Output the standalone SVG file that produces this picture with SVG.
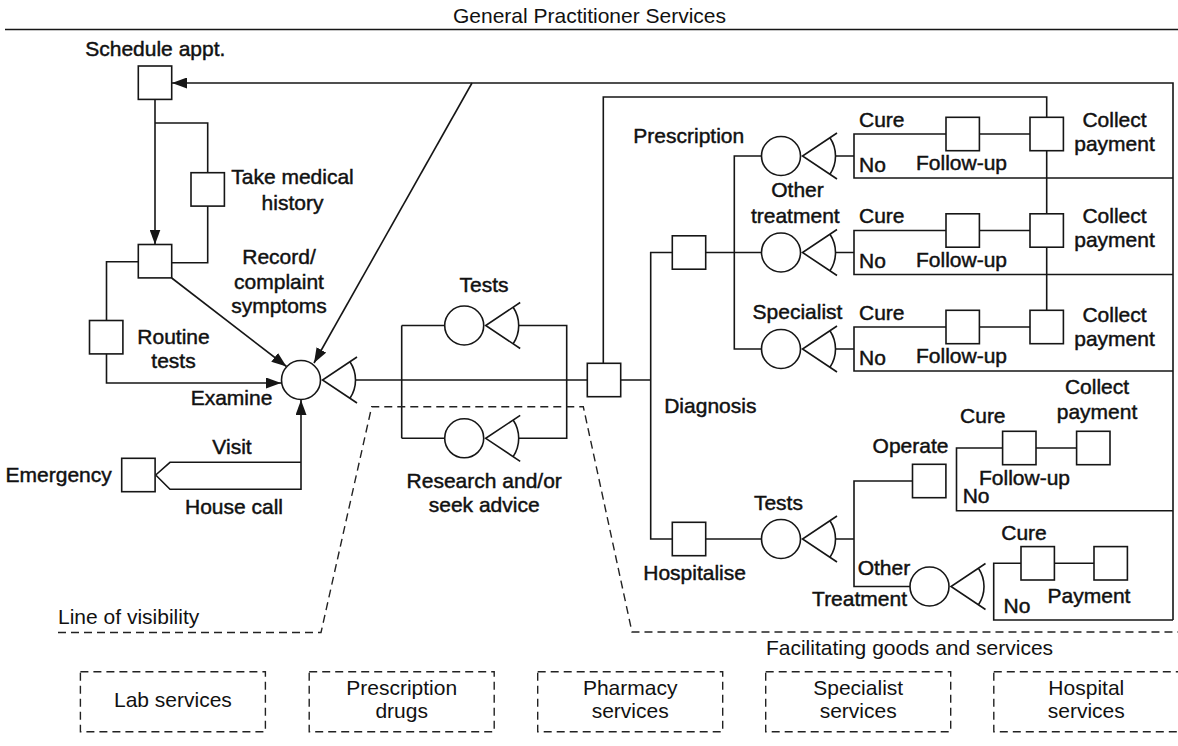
<svg xmlns="http://www.w3.org/2000/svg" width="1178" height="746" viewBox="0 0 1178 746">
  <style>
    .ln { fill: none; stroke: #161616; stroke-width: 1.6; }
    .bx { fill: #fff; stroke: #161616; stroke-width: 1.6; }
    .dash { fill: none; stroke: #222; stroke-width: 1.4; stroke-dasharray: 8 5; }
    text { font-family: "Liberation Sans", Arial, sans-serif; font-size: 21px; fill: #111; stroke: #111; stroke-width: 0.45; }
    .lt { stroke: none; }
    .m { text-anchor: middle; }
    .e { text-anchor: end; }
  </style>
  <defs>
    <marker id="arrow" markerUnits="userSpaceOnUse" markerWidth="15" markerHeight="11" refX="15" refY="5.5" orient="auto">
      <path d="M0,0 L15,5.5 L0,11 Z" fill="#161616"/>
    </marker>
    <!-- failure/decision point: circle with an open angle on its right -->
    <g id="wedge">
      <circle r="19.5" class="bx"/>
      <path class="ln" d="M56,-23 L21.5,0 L56,23 M48.96,-18.31 A33,33 0 0 1 48.96,18.31"/>
    </g>
    <rect id="sq" width="33.4" height="33.4" class="bx"/>
  </defs>

  <!-- header -->
  <g id="header">
    <text class="m lt" x="589.5" y="23">General Practitioner Services</text>
    <path class="ln" d="M5,29.5 H1178"/>
  </g>

  <!-- connectors -->
  <g id="connectors">
    <path class="ln" d="M1173,620 V83 H172" marker-end="url(#arrow)"/>
    <path class="ln" d="M155,99.4 V244.5" marker-end="url(#arrow)"/>
    <path class="ln" d="M155,123 H207.7 V172.7 M207.7,206 V262.7 H171.7"/>
    <path class="ln" d="M138.3,261.7 H106.5 V383 H281" marker-end="url(#arrow)"/>
    <path class="ln" d="M171.7,278 L286.5,366.5" marker-end="url(#arrow)"/>
    <path class="ln" d="M472,83 L314,363" marker-end="url(#arrow)"/>
    <path class="ln" d="M155.7,475 L170,462.3 H301 M155.7,475 L170,489.3 H301 V400" marker-end="url(#arrow)"/>
    <path class="ln" d="M355.5,380 H587.3"/>
    <path class="ln" d="M401.7,325.5 V438.3 M401.7,325.5 H444.7 M401.7,438.3 H444.7 M518.7,325.5 H566.7 V438.3 H518.7"/>
    <path class="ln" d="M603.3,363.3 V97 H1046.7 V310"/>
    <path class="ln" d="M620.7,380 H650.7 M672.3,252.5 H650.7 V539 H672.3"/>
    <path class="ln" d="M705.7,252.5 H761.5 M761.5,156 H734.3 V349 H761.5"/>
    <!-- treatment outcome rows -->
    <path class="ln" d="M835.5,156 H854 M946,134 H854 V178 H1173 M979.4,134 H1030"/>
    <path class="ln" d="M835.5,252.5 H854 M946,230.5 H854 V274.5 H1173 M979.4,230.5 H1030"/>
    <path class="ln" d="M835.5,349 H854 M946,327 H854 V371 H1173 M979.4,327 H1030"/>
    <!-- hospital branch -->
    <path class="ln" d="M705.7,539 H761.5 M835.5,539 H854 M912.5,481 H854 V586.5 H910"/>
    <path class="ln" d="M1002.6,448 H956.5 V510.7 H1173 M1036,448 H1076.6"/>
    <path class="ln" d="M1021,563.3 H993.7 V620 H1173 M1054.4,563.3 H1094"/>
    <text class="m" x="232" y="454">Visit</text>
    <text class="m" x="234" y="514">House call</text>
  </g>

  <!-- front-stage nodes -->
  <g id="schedule">
    <use href="#sq" x="138.3" y="66"/>
    <text class="m" x="155.3" y="56">Schedule appt.</text>
  </g>
  <g id="history">
    <use href="#sq" x="191" y="172.7"/>
    <text class="m" x="292.5" y="184">Take medical</text>
    <text class="m" x="292.5" y="209.5">history</text>
  </g>
  <g id="record">
    <use href="#sq" x="138.3" y="244.5"/>
    <text class="m" x="279" y="264.3">Record/</text>
    <text class="m" x="279" y="289">complaint</text>
    <text class="m" x="279" y="313.3">symptoms</text>
  </g>
  <g id="routine">
    <use href="#sq" x="89.5" y="320.5"/>
    <text class="m" x="173.5" y="344">Routine</text>
    <text class="m" x="173.5" y="368">tests</text>
  </g>
  <g id="examine">
    <use href="#wedge" x="301" y="380"/>
    <text class="m" x="231.5" y="405">Examine</text>
  </g>
  <g id="emergency">
    <use href="#sq" x="121.7" y="458.3"/>
    <text class="m" x="58.7" y="481.7">Emergency</text>
  </g>
  <g id="tests">
    <use href="#wedge" x="464.2" y="325.5"/>
    <text class="m" x="484" y="291.5">Tests</text>
  </g>
  <g id="research">
    <use href="#wedge" x="464.2" y="438.3"/>
    <text class="m" x="484.2" y="488.3">Research and/or</text>
    <text class="m" x="484.2" y="511.7">seek advice</text>
  </g>
  <g id="junction">
    <use href="#sq" x="587.3" y="363.3"/>
  </g>

  <!-- treatment nodes -->
  <g id="diagnosis">
    <use href="#sq" x="672.3" y="235.8"/>
    <text class="m" x="710.3" y="413.3">Diagnosis</text>
  </g>
  <g id="prescription">
    <use href="#wedge" x="781" y="156"/>
    <text class="m" x="688.8" y="143.3">Prescription</text>
  </g>
  <g id="other-treatment">
    <use href="#wedge" x="781" y="252.5"/>
    <text class="m" x="797.5" y="197.3">Other</text>
    <text class="m" x="795.3" y="222.7">treatment</text>
  </g>
  <g id="specialist">
    <use href="#wedge" x="781" y="349"/>
    <text class="m" x="797.5" y="319.3">Specialist</text>
  </g>

  <g id="outcome-1">
    <use href="#sq" x="946" y="117.3"/>
    <use href="#sq" x="1030" y="117.3"/>
    <text x="859" y="126.5">Cure</text>
    <text x="859" y="171.5">No</text>
    <text class="m" x="961.5" y="170">Follow-up</text>
    <text class="m" x="1114.5" y="126.7">Collect</text>
    <text class="m" x="1114.5" y="150.7">payment</text>
  </g>
  <g id="outcome-2">
    <use href="#sq" x="946" y="213.8"/>
    <use href="#sq" x="1030" y="213.8"/>
    <text x="859" y="223">Cure</text>
    <text x="859" y="268">No</text>
    <text class="m" x="961.5" y="266.5">Follow-up</text>
    <text class="m" x="1114.5" y="223">Collect</text>
    <text class="m" x="1114.5" y="247">payment</text>
  </g>
  <g id="outcome-3">
    <use href="#sq" x="946" y="310.3"/>
    <use href="#sq" x="1030" y="310.3"/>
    <text x="859" y="319.5">Cure</text>
    <text x="859" y="364.5">No</text>
    <text class="m" x="961.5" y="363">Follow-up</text>
    <text class="m" x="1114.5" y="321.7">Collect</text>
    <text class="m" x="1114.5" y="346">payment</text>
  </g>

  <!-- hospital branch nodes -->
  <g id="hospitalise">
    <use href="#sq" x="672.3" y="522.3"/>
    <text class="m" x="694.6" y="580">Hospitalise</text>
  </g>
  <g id="hospital-tests">
    <use href="#wedge" x="781" y="539"/>
    <text class="m" x="778.4" y="510">Tests</text>
  </g>
  <g id="operate">
    <use href="#sq" x="912.5" y="464.3"/>
    <text class="m" x="910.5" y="453.3">Operate</text>
  </g>
  <g id="operate-outcome">
    <use href="#sq" x="1002.6" y="431.3"/>
    <use href="#sq" x="1076.6" y="431.3"/>
    <text class="m" x="982.8" y="422.7">Cure</text>
    <text class="m" x="1097" y="394.3">Collect</text>
    <text class="m" x="1097" y="419.3">payment</text>
    <text class="m" x="1024.5" y="485">Follow-up</text>
    <text x="962.7" y="502.7">No</text>
  </g>
  <g id="hospital-other">
    <use href="#wedge" x="929.5" y="586.5"/>
    <text x="857.7" y="575">Other</text>
    <text class="e" x="907" y="605.7">Treatment</text>
  </g>
  <g id="other-outcome">
    <use href="#sq" x="1021" y="546.6"/>
    <use href="#sq" x="1094" y="546.6"/>
    <text class="m" x="1024" y="540">Cure</text>
    <text x="1003.6" y="613.3">No</text>
    <text class="m" x="1089" y="602.7">Payment</text>
  </g>

  <!-- line of visibility -->
  <g id="visibility">
    <path class="dash" d="M58,632.5 H321 L371.7,406.7 H583.3 L632,632 H1178"/>
    <text class="lt" x="58" y="624">Line of visibility</text>
  </g>

  <!-- facilitating goods and services -->
  <g id="facilitating">
    <text class="m lt" x="909.5" y="655">Facilitating goods and services</text>
  </g>
  <g id="lab-services">
    <rect class="dash" x="80.4" y="671.7" width="185" height="60"/>
    <text class="m lt" x="172.9" y="706.7">Lab services</text>
  </g>
  <g id="prescription-drugs">
    <rect class="dash" x="309.2" y="671.7" width="185" height="60"/>
    <text class="m lt" x="401.7" y="695">Prescription</text>
    <text class="m lt" x="401.7" y="718">drugs</text>
  </g>
  <g id="pharmacy-services">
    <rect class="dash" x="537.7" y="671.7" width="185" height="60"/>
    <text class="m lt" x="630.2" y="695">Pharmacy</text>
    <text class="m lt" x="630.2" y="718">services</text>
  </g>
  <g id="specialist-services">
    <rect class="dash" x="765.7" y="671.7" width="185" height="60"/>
    <text class="m lt" x="858.2" y="695">Specialist</text>
    <text class="m lt" x="858.2" y="718">services</text>
  </g>
  <g id="hospital-services">
    <rect class="dash" x="993.8" y="671.7" width="185" height="60"/>
    <text class="m lt" x="1086.3" y="695">Hospital</text>
    <text class="m lt" x="1086.3" y="718">services</text>
  </g>
</svg>
